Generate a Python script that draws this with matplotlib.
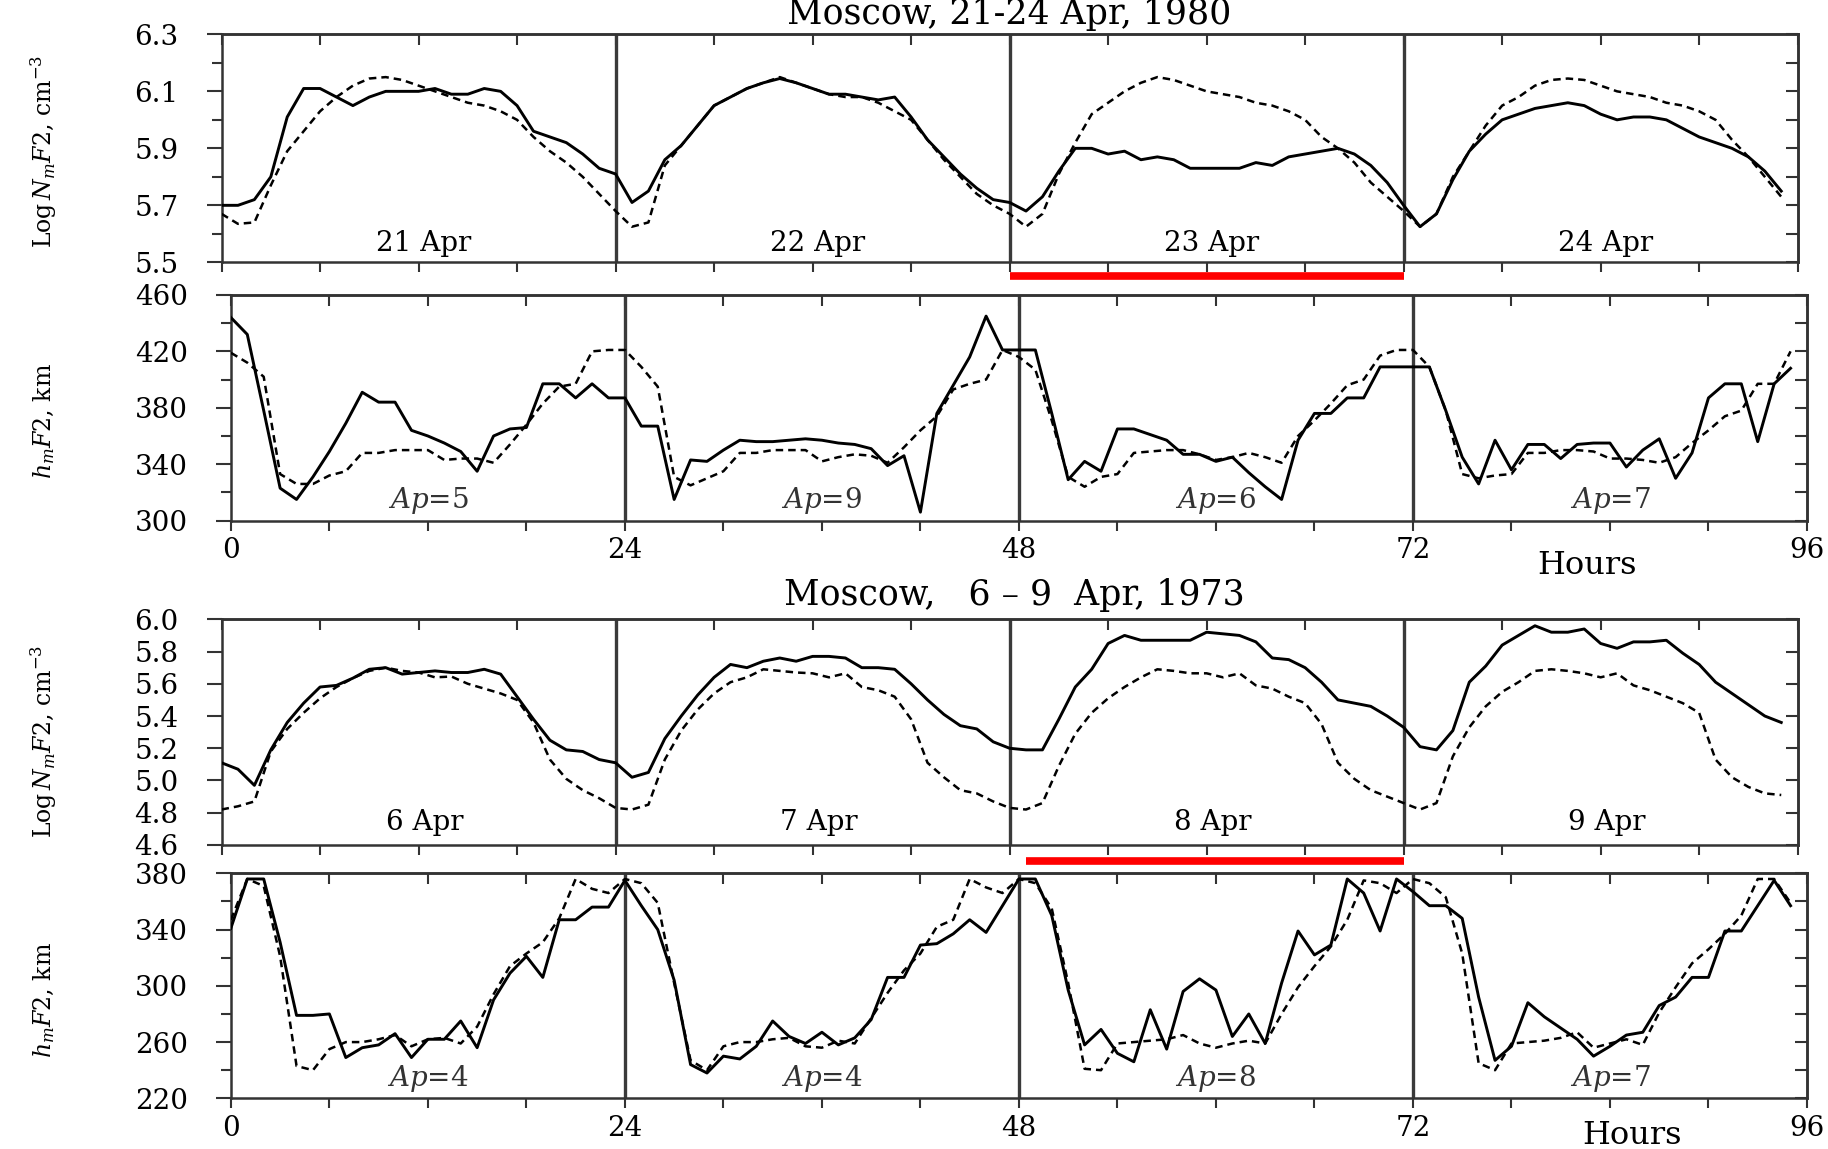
import matplotlib
matplotlib.use('Agg')
import matplotlib.pyplot as plt
import numpy as np

plt.rcParams['font.family'] = ['DejaVu Serif']
plt.rcParams['mathtext.fontset'] = 'dejavuserif'

hours = np.arange(0, 96)

# Moscow, 21-24 Apr 1980 : log NmF2 (observed / model)
nm80_obs = [5.70, 5.70, 5.72, 5.80, 6.01, 6.11, 6.11, 6.08, 6.05, 6.08, 6.10, 6.10,
            6.10, 6.11, 6.09, 6.09, 6.11, 6.10, 6.05, 5.96, 5.94, 5.92, 5.88, 5.83,
            5.81, 5.71, 5.75, 5.86, 5.91, 5.98, 6.05, 6.08, 6.11, 6.13, 6.145, 6.13,
            6.11, 6.09, 6.09, 6.08, 6.07, 6.08, 6.01, 5.93, 5.87, 5.81, 5.76, 5.72,
            5.71, 5.68, 5.73, 5.82, 5.90, 5.90, 5.88, 5.89, 5.86, 5.87, 5.86, 5.83,
            5.83, 5.83, 5.83, 5.85, 5.84, 5.87, 5.88, 5.89, 5.90, 5.88, 5.84, 5.78,
            5.70, 5.625, 5.67, 5.79, 5.89, 5.95, 6.00, 6.02, 6.04, 6.05, 6.06, 6.05,
            6.02, 6.00, 6.01, 6.01, 6.00, 5.97, 5.94, 5.92, 5.90, 5.87, 5.82, 5.75]
nm80_mod = [5.67, 5.635, 5.64, 5.77, 5.89, 5.96, 6.03, 6.08, 6.12, 6.145, 6.15, 6.14,
            6.12, 6.10, 6.08, 6.06, 6.05, 6.03, 6.00, 5.94, 5.89, 5.85, 5.80, 5.74,
            5.68, 5.625, 5.64, 5.84, 5.91, 5.98, 6.05, 6.08, 6.11, 6.13, 6.15, 6.13,
            6.11, 6.09, 6.08, 6.08, 6.06, 6.03, 6.00, 5.93, 5.86, 5.80, 5.74, 5.70,
            5.67, 5.625, 5.67, 5.81, 5.92, 6.02, 6.06, 6.10, 6.13, 6.15, 6.14, 6.12,
            6.10, 6.09, 6.08, 6.06, 6.05, 6.03, 6.00, 5.94, 5.90, 5.85, 5.78, 5.73,
            5.68, 5.625, 5.67, 5.80, 5.89, 5.98, 6.05, 6.08, 6.12, 6.14, 6.145, 6.14,
            6.12, 6.10, 6.09, 6.08, 6.06, 6.05, 6.03, 6.00, 5.93, 5.87, 5.80, 5.73]

# Moscow, 21-24 Apr 1980 : hmF2, km
hm80_obs = [444, 432, 378, 323, 315, 331, 349, 369, 391, 384, 384, 364,
            360, 355, 349, 335, 360, 365, 366, 397, 397, 387, 397, 387,
            387, 367, 367, 315, 343, 342, 350, 357, 356, 356, 357, 358,
            357, 355, 354, 351, 339, 346, 306, 376, 396, 416, 445, 421,
            421, 421, 376, 329, 342, 335, 365, 365, 361, 357, 347, 347,
            342, 345, 334, 324, 315, 357, 376, 376, 387, 387, 409, 409,
            409, 409, 378, 345, 326, 357, 336, 354, 354, 344, 354, 355,
            355, 338, 350, 358, 330, 348, 387, 397, 397, 356, 397, 408]
hm80_mod = [419, 412, 402, 333, 326, 326, 332, 335, 348, 348, 350, 350,
            350, 343, 344, 344, 341, 354, 368, 383, 395, 397, 420, 421,
            421, 409, 395, 331, 325, 330, 335, 348, 348, 350, 350, 350,
            342, 345, 347, 346, 341, 352, 364, 374, 393, 397, 400, 421,
            416, 407, 371, 331, 324, 331, 333, 348, 349, 350, 350, 347,
            343, 345, 348, 345, 341, 360, 371, 383, 396, 400, 417, 421,
            421, 409, 378, 333, 330, 332, 333, 348, 348, 350, 350, 349,
            344, 344, 343, 341, 345, 355, 364, 374, 378, 397, 397, 420]

# Moscow, 6-9 Apr 1973 : log NmF2
nm73_obs = [5.11, 5.07, 4.97, 5.19, 5.36, 5.48, 5.58, 5.59, 5.635, 5.69, 5.70, 5.66,
            5.67, 5.68, 5.67, 5.67, 5.69, 5.66, 5.52, 5.38, 5.25, 5.19, 5.18, 5.13,
            5.11, 5.02, 5.05, 5.26, 5.40, 5.53, 5.64, 5.72, 5.70, 5.74, 5.76, 5.74,
            5.77, 5.77, 5.76, 5.70, 5.70, 5.69, 5.60, 5.50, 5.41, 5.34, 5.32, 5.24,
            5.20, 5.19, 5.19, 5.38, 5.58, 5.69, 5.85, 5.90, 5.87, 5.87, 5.87, 5.87,
            5.92, 5.91, 5.90, 5.86, 5.76, 5.75, 5.70, 5.61, 5.50, 5.48, 5.46, 5.40,
            5.33, 5.21, 5.19, 5.31, 5.61, 5.71, 5.84, 5.90, 5.96, 5.92, 5.92, 5.94,
            5.85, 5.82, 5.86, 5.86, 5.87, 5.79, 5.72, 5.61, 5.54, 5.47, 5.40, 5.36]
nm73_mod = [4.82, 4.84, 4.87, 5.18, 5.32, 5.42, 5.51, 5.58, 5.635, 5.68, 5.70, 5.68,
            5.67, 5.64, 5.645, 5.60, 5.57, 5.54, 5.50, 5.36, 5.13, 5.01, 4.94, 4.89,
            4.83, 4.82, 4.85, 5.13, 5.31, 5.44, 5.54, 5.61, 5.64, 5.69, 5.68, 5.67,
            5.665, 5.64, 5.665, 5.58, 5.56, 5.52, 5.38, 5.11, 5.02, 4.94, 4.92, 4.87,
            4.83, 4.82, 4.86, 5.09, 5.29, 5.42, 5.51, 5.58, 5.64, 5.69, 5.68, 5.665,
            5.665, 5.64, 5.665, 5.59, 5.57, 5.52, 5.48, 5.35, 5.11, 5.01, 4.94, 4.90,
            4.86, 4.82, 4.86, 5.15, 5.33, 5.46, 5.55, 5.61, 5.68, 5.69, 5.68, 5.665,
            5.64, 5.665, 5.59, 5.56, 5.52, 5.48, 5.42, 5.13, 5.02, 4.96, 4.92, 4.91]

# Moscow, 6-9 Apr 1973 : hmF2, km
hm73_obs = [341, 376, 376, 331, 279, 279, 280, 249, 256, 258, 266, 249,
            262, 262, 275, 256, 290, 309, 321, 306, 347, 347, 356, 356,
            375, 357, 340, 304, 244, 238, 250, 248, 257, 275, 264, 259,
            267, 258, 263, 276, 306, 306, 329, 330, 337, 347, 338, 357,
            376, 376, 350, 297, 258, 269, 252, 246, 283, 255, 296, 305,
            297, 264, 280, 259, 302, 339, 322, 329, 376, 366, 339, 376,
            367, 357, 357, 348, 292, 247, 257, 288, 278, 270, 262, 250,
            257, 265, 267, 286, 292, 306, 306, 339, 339, 357, 375, 357]
hm73_mod = [347, 376, 371, 321, 243, 240, 255, 260, 260, 262, 265, 257,
            262, 263, 259, 271, 294, 314, 323, 331, 348, 376, 369, 366,
            376, 373, 359, 302, 247, 240, 257, 260, 260, 262, 263, 257,
            256, 261, 259, 277, 295, 311, 323, 342, 347, 376, 370, 366,
            376, 373, 355, 302, 241, 240, 259, 260, 261, 262, 265, 259,
            256, 259, 261, 259, 280, 299, 314, 328, 347, 375, 373, 366,
            376, 373, 363, 323, 245, 240, 259, 260, 261, 263, 267, 256,
            259, 262, 258, 281, 299, 316, 326, 337, 350, 376, 376, 359]

days80 = ['21 Apr', '22 Apr', '23 Apr', '24 Apr']
days73 = ['6 Apr', '7 Apr', '8 Apr', '9 Apr']
ap80 = [5, 9, 6, 7]
ap73 = [4, 4, 8, 7]

FS = 20
SPINE = '#333333'


def setup(ax, ylim, ymajor, yminor, show_x):
    ax.set_xlim(0, 96)
    ax.set_ylim(*ylim)
    for s in ax.spines.values():
        s.set_color(SPINE)
        s.set_linewidth(1.8)
    ax.set_xticks([0, 24, 48, 72, 96])
    ax.set_xticks(np.arange(0, 97, 6), minor=True)
    ax.set_yticks(ymajor)
    ax.set_yticks(yminor, minor=True)
    ax.tick_params(axis='x', which='both', direction='out', length=7, width=1.5,
                   color=SPINE, labelsize=FS, labelbottom=show_x, pad=5)
    ax.tick_params(axis='y', which='major', direction='out', length=11, width=1.5,
                   color=SPINE, labelsize=FS, pad=20)
    ax.tick_params(axis='y', which='minor', direction='out', length=7, width=1.5,
                   color=SPINE)
    top = ax.secondary_xaxis('top')
    top.set_xticks(np.arange(0, 97, 6))
    top.tick_params(direction='in', length=8, width=1.5, color=SPINE, labeltop=False)
    top.spines['top'].set_color(SPINE)
    top.spines['top'].set_linewidth(1.8)
    right = ax.secondary_yaxis('right')
    right.set_yticks(yminor)
    right.tick_params(direction='in', length=9, width=1.5, color=SPINE, labelright=False)
    right.spines['right'].set_color(SPINE)
    right.spines['right'].set_linewidth(1.8)
    for d in (24, 48, 72):
        ax.axvline(d, color='#3a3a3a', lw=2.4, zorder=1)


def curves(ax, obs, mod):
    ax.plot(hours, mod, color='black', lw=1.8, linestyle=(0, (3, 2)), zorder=3)
    ax.plot(hours, obs, color='black', lw=2.1, zorder=4)


fig = plt.figure(figsize=(18.28, 11.49), dpi=100)
fig.patch.set_facecolor('white')

ax1 = fig.add_axes([0.1212, 0.7717, 0.8622, 0.1984])
ax2 = fig.add_axes([0.1263, 0.5469, 0.8622, 0.1964])
ax3 = fig.add_axes([0.1212, 0.2646, 0.8622, 0.1964])
ax4 = fig.add_axes([0.1263, 0.0441, 0.8622, 0.1958])

setup(ax1, (5.5, 6.3), np.arange(5.5, 6.31, 0.2), np.arange(5.5, 6.31, 0.1), False)
setup(ax2, (300, 460), np.arange(300, 461, 40), np.arange(300, 461, 20), True)
setup(ax3, (4.6, 6.0), np.arange(4.6, 6.01, 0.2), np.arange(4.6, 6.01, 0.2), False)
setup(ax4, (220, 380), np.arange(220, 381, 40), np.arange(220, 381, 20), True)

ax1.yaxis.set_major_formatter(matplotlib.ticker.FormatStrFormatter('%.1f'))
ax3.yaxis.set_major_formatter(matplotlib.ticker.FormatStrFormatter('%.1f'))

curves(ax1, nm80_obs, nm80_mod)
curves(ax2, hm80_obs, hm80_mod)
curves(ax3, nm73_obs, nm73_mod)
curves(ax4, hm73_obs, hm73_mod)

for i in range(4):
    ax1.text(24 * i + 12.3, 5.567, days80[i], ha='center', va='center', fontsize=FS)
    ax2.text(24 * i + 12.0, 314, r'$Ap$=%d' % ap80[i], ha='center', va='center',
             fontsize=FS, color='#333333')
    ax3.text(24 * i + 12.4, 4.74, days73[i], ha='center', va='center', fontsize=FS)
    ax4.text(24 * i + 12.0, 234, r'$Ap$=%d' % ap73[i], ha='center', va='center',
             fontsize=FS, color='#333333')

# storm-day markers
ax1.plot([48, 72], [-0.058, -0.058], transform=ax1.get_xaxis_transform(),
         clip_on=False, color='red', lw=5.5, solid_capstyle='butt')
ax3.plot([49, 72], [-0.070, -0.070], transform=ax3.get_xaxis_transform(),
         clip_on=False, color='red', lw=5.5, solid_capstyle='butt')

ylab_nm = r'Log$\,N_m F$2, cm$^{-3}$'
ylab_hm = r'$h_m F$2, km'
fig.text(0.024, 0.868, ylab_nm, rotation=90, ha='center', va='center', fontsize=17)
fig.text(0.024, 0.634, ylab_hm, rotation=90, ha='center', va='center', fontsize=17)
fig.text(0.024, 0.355, ylab_nm, rotation=90, ha='center', va='center', fontsize=17)
fig.text(0.024, 0.130, ylab_hm, rotation=90, ha='center', va='center', fontsize=17)

fig.text(0.552, 0.988, 'Moscow, 21-24 Apr, 1980', ha='center', va='center', fontsize=25)
fig.text(0.555, 0.482, 'Moscow,   6 \u2013 9  Apr, 1973', ha='center', va='center', fontsize=25)
fig.text(0.868, 0.508, 'Hours', ha='center', va='center', fontsize=23)
fig.text(0.893, 0.0115, 'Hours', ha='center', va='center', fontsize=23)

fig.savefig('out.png', dpi=100)
